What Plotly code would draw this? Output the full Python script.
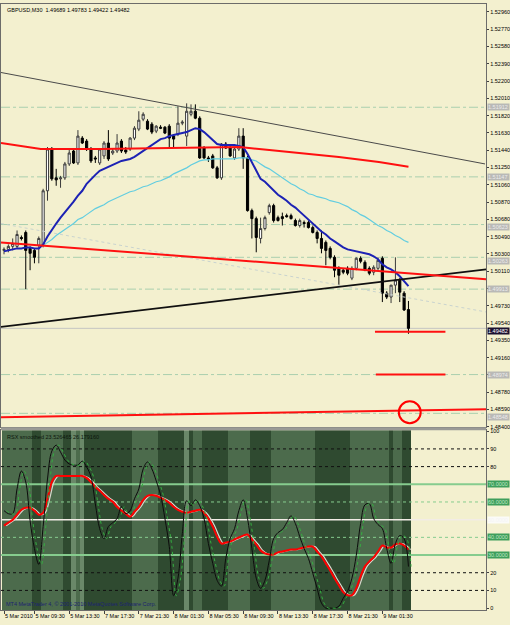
import plotly.graph_objects as go

# ---------------- data ----------------
bar_index = list(range(94))

opens = [1.50339, 1.50350, 1.50383, 1.50383, 1.50481, 1.50536, 1.50361, 1.50339, 1.50394, 1.50394,
         1.50994, 1.51453, 1.51136, 1.51125, 1.51136, 1.51289, 1.51431, 1.51300, 1.51573, 1.51540,
         1.51453, 1.51355, 1.51300, 1.51377, 1.51519, 1.51409, 1.51431, 1.51540, 1.51442, 1.51453,
         1.51573, 1.51672, 1.51781, 1.51759, 1.51726, 1.51650, 1.51693, 1.51693, 1.51704, 1.51595,
         1.51617, 1.51737, 1.51595, 1.51835, 1.51868, 1.51792, 1.51464, 1.51355, 1.51377, 1.51246,
         1.51136, 1.51508, 1.51464, 1.51355, 1.51453, 1.51595, 1.51355, 1.50776, 1.50688, 1.50470,
         1.50579, 1.50754, 1.50831, 1.50699, 1.50710, 1.50721, 1.50721, 1.50667, 1.50612, 1.50645,
         1.50645, 1.50590, 1.50536, 1.50470, 1.50427, 1.50361, 1.50263, 1.50142, 1.50121, 1.50142,
         1.50034, 1.50142, 1.50252, 1.50208, 1.50142, 1.50099, 1.50142, 1.50252, 1.49869, 1.49826,
         1.49957, 1.50012, 1.49869, 1.49689]
highs = [1.50372, 1.50405, 1.50470, 1.50558, 1.50503, 1.50558, 1.50383, 1.50361, 1.50492, 1.51016,
         1.51475, 1.51475, 1.51235, 1.51158, 1.51311, 1.51442, 1.51453, 1.51661, 1.51595, 1.51562,
         1.51475, 1.51377, 1.51464, 1.51540, 1.51661, 1.51453, 1.51617, 1.51562, 1.51475, 1.51584,
         1.51704, 1.51868, 1.51857, 1.51781, 1.51748, 1.51715, 1.51715, 1.51704, 1.51726, 1.51617,
         1.51923, 1.51770, 1.51955, 1.51944, 1.51944, 1.51813, 1.51486, 1.51377, 1.51399, 1.51267,
         1.51519, 1.51530, 1.51486, 1.51475, 1.51682, 1.51682, 1.51377, 1.50798, 1.50710, 1.50699,
         1.50721, 1.50852, 1.50852, 1.50721, 1.50754, 1.50743, 1.50743, 1.50688, 1.50688, 1.50667,
         1.50667, 1.50612, 1.50558, 1.50558, 1.50448, 1.50383, 1.50285, 1.50164, 1.50142, 1.50164,
         1.50164, 1.50263, 1.50274, 1.50230, 1.50164, 1.50175, 1.50263, 1.50274, 1.49891, 1.49957,
         1.50263, 1.50034, 1.49891, 1.49783]
lows = [1.50296, 1.50318, 1.50339, 1.50361, 1.50448, 1.49913, 1.50121, 1.50197, 1.50197, 1.50372,
        1.50885, 1.51104, 1.51049, 1.51027, 1.51114, 1.51267, 1.51289, 1.51278, 1.51508, 1.51431,
        1.51300, 1.51300, 1.51278, 1.51344, 1.51322, 1.51388, 1.51409, 1.51409, 1.51399, 1.51431,
        1.51551, 1.51650, 1.51759, 1.51661, 1.51617, 1.51628, 1.51672, 1.51617, 1.51464, 1.51464,
        1.51595, 1.51715, 1.51486, 1.51813, 1.51781, 1.51344, 1.51344, 1.51311, 1.51235, 1.51125,
        1.51114, 1.51453, 1.51366, 1.51333, 1.51431, 1.51235, 1.50765, 1.50470, 1.50318, 1.50416,
        1.50558, 1.50732, 1.50645, 1.50656, 1.50612, 1.50699, 1.50678, 1.50601, 1.50590, 1.50590,
        1.50579, 1.50525, 1.50416, 1.50307, 1.50175, 1.50241, 1.50044, 1.49957, 1.50077, 1.50066,
        1.50012, 1.50121, 1.50197, 1.50110, 1.50066, 1.50066, 1.50121, 1.49771, 1.49804, 1.49760,
        1.49869, 1.49771, 1.49673, 1.49422]
closes = [1.50350, 1.50383, 1.50416, 1.50514, 1.50470, 1.50339, 1.50307, 1.50263, 1.50470, 1.50994,
          1.51453, 1.51125, 1.51114, 1.51136, 1.51289, 1.51409, 1.51300, 1.51595, 1.51519, 1.51453,
          1.51322, 1.51344, 1.51453, 1.51519, 1.51344, 1.51431, 1.51519, 1.51431, 1.51420, 1.51573,
          1.51682, 1.51770, 1.51835, 1.51672, 1.51639, 1.51704, 1.51682, 1.51628, 1.51573, 1.51562,
          1.51737, 1.51748, 1.51868, 1.51868, 1.51792, 1.51355, 1.51355, 1.51344, 1.51246, 1.51136,
          1.51508, 1.51464, 1.51377, 1.51453, 1.51595, 1.51355, 1.50776, 1.50688, 1.50481, 1.50579,
          1.50699, 1.50831, 1.50667, 1.50667, 1.50688, 1.50710, 1.50688, 1.50612, 1.50667, 1.50634,
          1.50590, 1.50536, 1.50470, 1.50361, 1.50339, 1.50263, 1.50121, 1.50066, 1.50099, 1.50088,
          1.50142, 1.50252, 1.50219, 1.50121, 1.50088, 1.50153, 1.50230, 1.49869, 1.49826, 1.49957,
          1.50012, 1.49880, 1.49684, 1.49482]

ma_fast = [1.50328, 1.50339, 1.50350, 1.50361, 1.50361, 1.50372, 1.50372, 1.50361, 1.50361, 1.50405,
           1.50492, 1.50568, 1.50634, 1.50699, 1.50754, 1.50809, 1.50874, 1.50940, 1.50994, 1.51071,
           1.51125, 1.51169, 1.51213, 1.51235, 1.51257, 1.51278, 1.51300, 1.51322, 1.51333, 1.51344,
           1.51366, 1.51399, 1.51431, 1.51464, 1.51497, 1.51530, 1.51562, 1.51573, 1.51595, 1.51606,
           1.51617, 1.51628, 1.51639, 1.51661, 1.51682, 1.51672, 1.51639, 1.51595, 1.51551, 1.51508,
           1.51497, 1.51497, 1.51497, 1.51497, 1.51486, 1.51475, 1.51399, 1.51311, 1.51213, 1.51125,
           1.51093, 1.51049, 1.51005, 1.50950, 1.50918, 1.50885, 1.50841, 1.50809, 1.50765, 1.50721,
           1.50678, 1.50634, 1.50590, 1.50547, 1.50514, 1.50470, 1.50438, 1.50405, 1.50372, 1.50350,
           1.50339, 1.50328, 1.50318, 1.50307, 1.50296, 1.50274, 1.50241, 1.50186, 1.50153, 1.50131,
           1.50099, 1.50055, 1.50001, 1.49946]
ma_slow = [None] * 9 + [
           1.50394, 1.50427, 1.50459, 1.50503, 1.50536, 1.50568, 1.50601, 1.50634, 1.50678, 1.50699,
           1.50732, 1.50765, 1.50798, 1.50820, 1.50841, 1.50874, 1.50896, 1.50918, 1.50940, 1.50961,
           1.50983, 1.50994, 1.51016, 1.51038, 1.51049, 1.51071, 1.51093, 1.51104, 1.51125, 1.51147,
           1.51180, 1.51202, 1.51224, 1.51246, 1.51278, 1.51300, 1.51322, 1.51333, 1.51333, 1.51344,
           1.51344, 1.51344, 1.51344, 1.51344, 1.51344, 1.51355, 1.51355, 1.51355, 1.51333, 1.51322,
           1.51289, 1.51257, 1.51235, 1.51202, 1.51169, 1.51136, 1.51104, 1.51071, 1.51049, 1.51016,
           1.50994, 1.50961, 1.50950, 1.50929, 1.50918, 1.50907, 1.50885, 1.50874, 1.50863, 1.50841,
           1.50820, 1.50787, 1.50765, 1.50732, 1.50710, 1.50678, 1.50645, 1.50612, 1.50590, 1.50558,
           1.50536, 1.50503, 1.50481, 1.50448, 1.50427]

rsx_fast = [55.1, 53.4, 53.4, 67.4, 77.5, 71.3, 49.4, 33.7, 24.7, 46.1,
            73.0, 88.8, 92.1, 88.2, 83.7, 81.5, 80.9, 80.9, 83.1, 79.8,
            74.2, 59.0, 44.9, 39.3, 46.1, 48.3, 50.6, 57.3, 53.4, 55.1,
            61.8, 67.4, 78.7, 82.6, 78.7, 71.9, 64.0, 50.6, 34.8, 7.0,
            16.9, 42.1, 60.7, 57.9, 61.2, 57.9, 50.6, 36.5, 25.3, 15.7,
            12.4, 28.1, 39.3, 44.9, 55.1, 61.2, 50.6, 33.7, 16.9, 11.2,
            15.7, 27.0, 39.3, 42.7, 44.4, 48.3, 52.2, 47.8, 40.4, 33.7,
            28.1, 19.7, 11.2, 2.8, 0.0, 0.0, 0.0, 1.1, 5.6, 9.6,
            16.9, 29.8, 47.8, 58.4, 59.0, 50.6, 47.2, 44.9, 33.7, 25.3,
            36.5, 41.0, 39.3, 23.5]
rsx_slow = [46.6, 48.3, 50.0, 52.8, 55.6, 56.7, 56.7, 55.1, 52.8, 53.9,
            61.8, 71.3, 74.7, 74.7, 74.7, 74.7, 74.7, 74.7, 74.7, 73.6,
            71.3, 68.5, 66.3, 64.0, 61.8, 60.1, 57.3, 55.1, 53.4, 51.7,
            54.5, 57.3, 61.2, 63.5, 64.0, 63.5, 62.4, 61.2, 59.6, 57.3,
            55.6, 54.5, 53.9, 54.5, 55.1, 55.6, 53.9, 50.6, 46.1, 40.4,
            36.5, 37.1, 37.6, 38.8, 39.9, 41.0, 41.6, 38.8, 36.0, 32.6,
            30.9, 30.3, 30.3, 31.5, 32.0, 32.6, 33.1, 33.1, 33.7, 34.3,
            34.8, 34.8, 32.0, 29.2, 25.3, 21.3, 16.9, 12.9, 9.0, 7.3,
            7.3, 11.2, 18.0, 23.6, 26.4, 28.7, 32.0, 35.4, 34.3, 34.3,
            36.0, 36.5, 35.4, 33.1]
trend_state = [1, 1, 1, 1, 1, 1, 1, 0, 0, 1,
               1, 1, 1, 1, 0, 0, 2, 1, 2, 0,
               0, 0, 0, 0, 0, 0, 0, 0, 0, 0,
               1, 1, 1, 1, 1, 1, 0, 0, 0, 0,
               0, 0, 2, 0, 1, 1, 0, 0, 0, 0,
               0, 0, 1, 1, 1, 1, 1, 0, 0, 0,
               0, 0, 1, 1, 1, 1, 1, 1, 1, 1,
               1, 1, 0, 0, 0, 0, 0, 0, 0, 0,
               1, 1, 1, 1, 1, 1, 1, 1, 1, 0,
               1, 1, 0, 0]

price_tick_labels = ["1.48400", "1.48590", "1.48780", "1.48970", "1.49160", "1.49350", "1.49540",
                     "1.49730", "1.49920", "1.50110", "1.50300", "1.50490", "1.50680", "1.50870",
                     "1.51060", "1.51250", "1.51440", "1.51630", "1.51820", "1.52010", "1.52200",
                     "1.52390", "1.52580", "1.52770", "1.52960"]
time_tick_bars = [0, 7, 15, 23, 31, 39, 47, 55, 63, 71, 79, 87]
time_tick_labels = ["5 Mar 2010", "5 Mar 09:30", "5 Mar 13:30", "7 Mar 17:30", "7 Mar 21:30",
                    "8 Mar 01:30", "8 Mar 05:30", "8 Mar 09:30", "8 Mar 13:30", "8 Mar 17:30",
                    "8 Mar 21:30", "9 Mar 01:30"]

level_prices = [1.51912, 1.51147, 1.50623, 1.50263, 1.49913, 1.48974, 1.48548]
last_price = 1.49482

# trend lines: anchor bar positions and prices
tl_grey_x, tl_grey_y = [-0.69, 110.6], [1.52294, 1.51289]
tl_black_x, tl_black_y = [-0.69, 110.86], [1.49498, 1.50131]
tl_red_mid_x, tl_red_mid_y = [-0.69, 110.86], [1.50427, 1.50023]
tl_red_top_x = [-0.69, 8.46, 22.2, 35.9, 45.0, 54.2, 61.0, 67.9, 77.0, 86.2, 93.0]
tl_red_top_y = [1.51519, 1.51453, 1.51453, 1.51464, 1.51475, 1.51475, 1.51442, 1.51409, 1.51366, 1.51311, 1.51257]
tl_red_low_x, tl_red_low_y = [-0.69, 110.86], [1.48505, 1.48592]
seg1_x, seg1_y = [85.3, 101.5], [1.49444, 1.49444]
seg2_x, seg2_y = [85.5, 101.5], [1.48974, 1.48974]
tl_faint_x, tl_faint_y = [-0.69, 110.86], [1.50634, 1.49662]
circle_center = (93.3, 1.48560)

rsx_levels_dark = [90, 80, 20, 10]
rsx_levels_solid = [70, 30]
rsx_levels_dash = [60, 40]
rsx_mid = 50

# ---------------- figure ----------------
X_RANGE = [-0.69, 110.86]
Y_RANGE = [1.48395, 1.53047]
R_RANGE = [-1.12, 100.56]
BG = "#f3f0cf"
FONT = "Liberation Sans"
FS = 5.5
PX_PER_PRICE = 426.0 / (Y_RANGE[1] - Y_RANGE[0])

fig = go.Figure()

# faint dotted diagonal
fig.add_trace(go.Scatter(x=tl_faint_x, y=tl_faint_y, mode="lines",
                         line=dict(color="#c9d3cf", width=1, dash="dot"), xaxis="x", yaxis="y"))

fig.add_trace(go.Candlestick(
    x=bar_index, open=opens, high=highs, low=lows, close=closes,
    increasing=dict(line=dict(color="#3a3a3a", width=1), fillcolor="#ffffff"),
    decreasing=dict(line=dict(color="#000000", width=1), fillcolor="#000000"),
    whiskerwidth=0, xaxis="x", yaxis="y"))

fig.add_trace(go.Scatter(x=bar_index, y=ma_slow, mode="lines",
                         line=dict(color="#62cde0", width=1.2), xaxis="x", yaxis="y"))
fig.add_trace(go.Scatter(x=bar_index, y=ma_fast, mode="lines",
                         line=dict(color="#1c22b4", width=2), xaxis="x", yaxis="y"))

fig.add_trace(go.Scatter(x=tl_grey_x, y=tl_grey_y, mode="lines",
                         line=dict(color="#4a4a4a", width=1), xaxis="x", yaxis="y"))
fig.add_trace(go.Scatter(x=tl_black_x, y=tl_black_y, mode="lines",
                         line=dict(color="#101010", width=1.8), xaxis="x", yaxis="y"))
for xs, ys in [(tl_red_mid_x, tl_red_mid_y), (tl_red_top_x, tl_red_top_y),
               (tl_red_low_x, tl_red_low_y), (seg1_x, seg1_y), (seg2_x, seg2_y)]:
    fig.add_trace(go.Scatter(x=xs, y=ys, mode="lines",
                             line=dict(color="#ff1010", width=2), xaxis="x", yaxis="y"))

# ---- RSX panel ----
band_colors = {0: "#2f4a30", 1: "#4c6b4c", 2: "#6a8869"}
fig.add_trace(go.Bar(x=bar_index, y=[R_RANGE[1] - R_RANGE[0]] * len(bar_index), base=R_RANGE[0],
                     width=1.0, marker=dict(color=[band_colors[s] for s in trend_state], line=dict(width=0)),
                     xaxis="x2", yaxis="y2"))
for lv in rsx_levels_dark:
    fig.add_trace(go.Scatter(x=X_RANGE, y=[lv, lv], mode="lines",
                             line=dict(color="#111111", width=1, dash="3px,3px"), xaxis="x2", yaxis="y2"))
for lv in rsx_levels_dash:
    fig.add_trace(go.Scatter(x=X_RANGE, y=[lv, lv], mode="lines",
                             line=dict(color="#86cc8e", width=1, dash="3px,3px"), xaxis="x2", yaxis="y2"))
for lv in rsx_levels_solid:
    fig.add_trace(go.Scatter(x=X_RANGE, y=[lv, lv], mode="lines",
                             line=dict(color="#86cc8e", width=2), xaxis="x2", yaxis="y2"))
fig.add_trace(go.Scatter(x=X_RANGE, y=[rsx_mid, rsx_mid], mode="lines",
                         line=dict(color="#f2ece6", width=1.5), xaxis="x2", yaxis="y2"))

fig.add_trace(go.Scatter(x=[b + 0.5 for b in bar_index], y=rsx_slow, mode="lines",
                         line=dict(color="#d9d6cc", width=1.2, shape="spline"), xaxis="x2", yaxis="y2"))
fig.add_trace(go.Scatter(x=bar_index, y=rsx_slow, mode="lines",
                         line=dict(color="#ff0000", width=2, shape="spline"), xaxis="x2", yaxis="y2"))
fig.add_trace(go.Scatter(x=bar_index, y=rsx_fast, mode="lines",
                         line=dict(color="#0c0c0c", width=1, shape="spline"), xaxis="x2", yaxis="y2"))
fig.add_trace(go.Scatter(x=[b + 0.6 for b in bar_index], y=rsx_fast, mode="lines",
                         line=dict(color="#34b040", width=1, dash="dot", shape="spline"), xaxis="x2", yaxis="y2"))

shapes = []
for lv in level_prices:
    shapes.append(dict(type="line", xref="x domain", yref="y", x0=0, x1=1, y0=lv, y1=lv,
                       line=dict(color="#a9cfae", width=1, dash="dashdot"), layer="below"))
shapes.append(dict(type="line", xref="x domain", yref="y", x0=0, x1=1, y0=last_price, y1=last_price,
                   line=dict(color="#c6c6c2", width=1), layer="below"))
cx, cy = circle_center
dx = 11 * (X_RANGE[1] - X_RANGE[0]) / 488.0
dy = 11 / PX_PER_PRICE
shapes.append(dict(type="circle", xref="x", yref="y", x0=cx - dx, x1=cx + dx, y0=cy - dy, y1=cy + dy,
                   line=dict(color="#ff0000", width=2)))
# separator between panels
shapes.append(dict(type="rect", xref="paper", yref="paper", x0=0, x1=488 / 510,
                   y0=1 - 431 / 625, y1=1 - 428 / 625, fillcolor="#9a9a96", line=dict(width=0)))

annotations = [
    dict(text="GBPUSD,M30  1.49689 1.49783 1.49422 1.49482", xref="paper", yref="paper",
         x=4 / 510, y=1 - 3 / 625, xanchor="left", yanchor="top", showarrow=False,
         font=dict(size=FS, color="#000000")),
    dict(text="RSX smoothed 23.526465 26.179160", xref="paper", yref="paper",
         x=4 / 510, y=1 - 433 / 625, xanchor="left", yanchor="top", showarrow=False,
         font=dict(size=FS, color="#0c160c")),
    dict(text="MT4 MetaTrader 4, \u00a9 2001-2010 MetaQuotes Software Corp.", xref="paper", yref="paper",
         x=3 / 510, y=1 - 611 / 625, xanchor="left", yanchor="bottom", showarrow=False,
         font=dict(size=FS, color="#1c2470")),
]

# price axis labels: a label hidden behind a level box (as in the picture) is left blank,
# near-by boxes are nudged so both texts stay readable
tick_vals = [float(t) for t in price_tick_labels]
tick_text = []
for tv, tl in zip(tick_vals, price_tick_labels):
    covered = any(abs(tv - lv) * PX_PER_PRICE < 2.0 for lv in level_prices)
    tick_text.append("" if covered else tl)


def box_shift(price):
    gaps = [(tv - price) * PX_PER_PRICE for tv in tick_vals
            if 2.0 <= abs(tv - price) * PX_PER_PRICE < 7.5]
    if not gaps:
        return 0
    g = gaps[0]
    return -(7.5 - g) if g > 0 else (7.5 + g)


for lv in level_prices:
    annotations.append(dict(text=f"{lv:.5f}", xref="paper", yref="y", x=489 / 510, y=lv,
                            xanchor="left", yanchor="middle", showarrow=False, bgcolor="#b9b9b6",
                            borderpad=0, width=21, height=6, align="left", yshift=box_shift(lv),
                            font=dict(size=FS, color="#ececec")))
annotations.append(dict(text=f"{last_price:.5f}", xref="paper", yref="y", x=489 / 510, y=last_price,
                        xanchor="left", yanchor="middle", showarrow=False, bgcolor="#1a1030",
                        borderpad=0, width=21, height=6, align="left", yshift=box_shift(last_price),
                        font=dict(size=FS, color="#ffffff")))
for lv in rsx_levels_solid + rsx_levels_dash:
    annotations.append(dict(text=f"{lv:.4f}", xref="paper", yref="y2", x=489 / 510, y=lv,
                            xanchor="left", yanchor="middle", showarrow=False, bgcolor="#3e9e5c",
                            borderpad=0, width=21, height=6, align="left",
                            font=dict(size=FS, color="#bfe8c4")))
annotations.append(dict(text=f"{rsx_mid:.4f}", xref="paper", yref="y2", x=489 / 510, y=rsx_mid,
                        xanchor="left", yanchor="middle", showarrow=False, bgcolor="#fbfbf8",
                        borderpad=0, width=21, height=6, align="left",
                        font=dict(size=FS, color="#f4f4f4")))

axis_common = dict(showgrid=False, zeroline=False, showline=True, mirror=True, linecolor="#6c6c6a",
                   linewidth=1, tickcolor="#404040", tickfont=dict(size=FS, color="#000000", family=FONT))

fig.update_layout(
    width=510, height=625, margin=dict(l=0, r=0, t=0, b=0),
    paper_bgcolor=BG, plot_bgcolor=BG, showlegend=False, bargap=0,
    font=dict(family=FONT, size=FS, color="#000000"),
    xaxis=dict(domain=[0, 488 / 510], range=X_RANGE, anchor="y", showticklabels=False, ticks="",
               rangeslider=dict(visible=False), **axis_common),
    yaxis=dict(domain=[1 - 428 / 625, 1 - 2 / 625], range=Y_RANGE, anchor="x", side="right",
               tickvals=tick_vals, ticktext=tick_text,
               ticks="outside", ticklen=2, **axis_common),
    xaxis2=dict(domain=[0, 488 / 510], range=X_RANGE, anchor="y2", tickvals=time_tick_bars,
                ticktext=time_tick_labels, ticks="outside", ticklen=3, ticklabelposition="outside right",
                tickangle=0, **axis_common),
    yaxis2=dict(domain=[1 - 612 / 625, 1 - 431 / 625], range=R_RANGE, anchor="x2", side="right",
                tickvals=[0, 10, 20, 80, 90, 100], ticktext=["0", "10", "20", "80", "90", "100"],
                ticks="outside", ticklen=2, **axis_common),
    shapes=shapes, annotations=annotations,
)

fig.write_html("out.html")
